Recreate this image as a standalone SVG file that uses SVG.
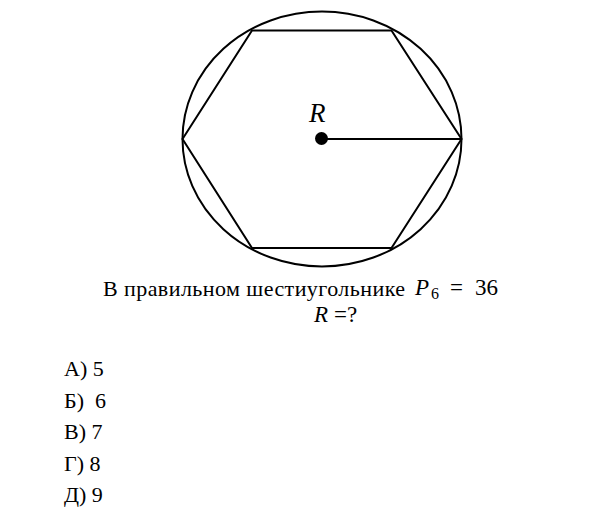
<svg xmlns="http://www.w3.org/2000/svg" width="601" height="523" viewBox="0 0 601 523">
<style>
.ln{fill:none;stroke:#000;stroke-width:2}
text{font-family:'Liberation Serif','Times New Roman',serif;fill:#000}
.t{font-size:22px}
.m{font-style:italic}
</style>
<rect width="601" height="523" fill="#fff"/>
<g id="figure">
<ellipse class="ln" cx="322" cy="139" rx="139.5" ry="127.5"/>
<polygon class="ln" points="182.5,139 252,30.5 391.5,30.5 461.5,139 391.5,248 252,248"/>
<line class="ln" x1="322" y1="139" x2="461.5" y2="139"/>
<circle cx="321.5" cy="138.5" r="6.5" fill="#000"/>
<text class="m" x="309" y="122" font-size="27">R</text>
</g>
<g id="question">
<text class="t" x="103" y="296" textLength="302">В правильном шестиугольнике</text>
<text class="m" x="415" y="295" font-size="23">P</text>
<text x="431" y="299" font-size="16">6</text>
<text x="450" y="295" font-size="23">= <tspan x="475">36</tspan></text>
<text class="m" x="314" y="322" font-size="23">R</text>
<text x="334" y="322" font-size="23">=?</text>
</g>
<g id="options">
<text class="t" x="64" y="376">А) 5</text>
<text class="t" x="64" y="408" xml:space="preserve">Б)  6</text>
<text class="t" x="64" y="439">В) 7</text>
<text class="t" x="64" y="471">Г) 8</text>
<text class="t" x="64" y="502">Д) 9</text>
</g>
</svg>
